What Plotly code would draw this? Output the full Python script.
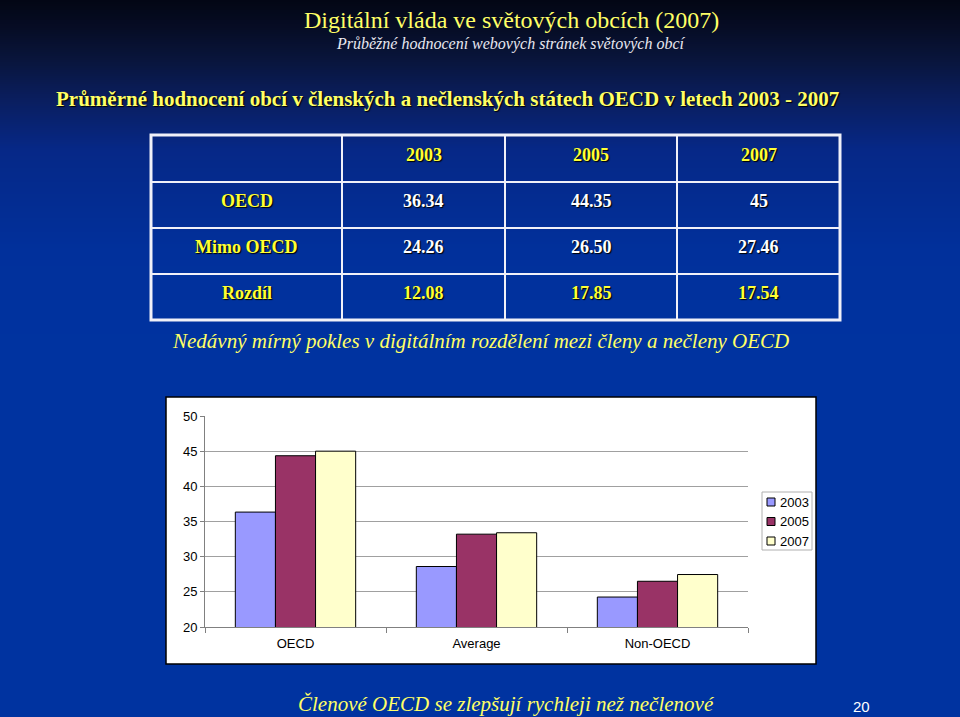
import plotly.graph_objects as go

# ---------------- data ----------------
years = ["2003", "2005", "2007"]
table_row_labels = ["OECD", "Mimo OECD", "Rozdíl"]
table_values = [
    ["36.34", "44.35", "45"],
    ["24.26", "26.50", "27.46"],
    ["12.08", "17.85", "17.54"],
]
chart_categories = ["OECD", "Average", "Non-OECD"]
values_2003 = [36.34, 28.6, 24.26]
values_2005 = [44.35, 33.2, 26.50]
values_2007 = [45.0, 33.4, 27.46]
y_ticks = [20, 25, 30, 35, 40, 45, 50]

title_text = "Digitální vláda ve světových obcích (2007)"
subtitle_text = "Průběžné hodnocení webových stránek světových obcí"
heading_text = "Průměrné hodnocení obcí v členských a nečlenských státech OECD v letech 2003 - 2007"
note_text = "Nedávný mírný pokles v digitálním rozdělení mezi členy a nečleny OECD"
bottom_text = "Členové OECD se zlepšují rychleji než nečlenové"
page_number = "20"

# ---------------- styling helpers ----------------
W, H = 960, 717
bar_colors = ["#9999ff", "#993366", "#ffffcc"]
YELLOW_T = "#ffff66"
YELLOW_TAB = "#ffff33"
SERIF = "Liberation Serif"
SANS = "Liberation Sans"


def px(x):
    return x / W


def py(y):
    return 1 - y / H


fig = go.Figure()
series = [values_2003, values_2005, values_2007]
for name, vals, col in zip(years, series, bar_colors):
    fig.add_bar(
        x=chart_categories,
        y=vals,
        name=name,
        marker=dict(color=col, line=dict(color="black", width=1)),
    )

shapes = []
# background gradient bands
stops = [(0, (3, 6, 20)), (30, (6, 13, 38)), (60, (9, 21, 60)), (100, (10, 30, 95)),
         (150, (6, 40, 135)), (250, (1, 48, 155)), (350, (0, 51, 160))]


def grad(y):
    for (y0, c0), (y1, c1) in zip(stops[:-1], stops[1:]):
        if y0 <= y <= y1:
            t = (y - y0) / (y1 - y0)
            return tuple(int(round(a + (b - a) * t)) for a, b in zip(c0, c1))
    return stops[-1][1]


step = 2
for yb in range(0, 352, step):
    r, g, b = grad(yb + step / 2)
    shapes.append(dict(type="rect", xref="paper", yref="paper", layer="below",
                       x0=0, x1=1, y0=py(yb + step), y1=py(yb),
                       fillcolor=f"rgb({r},{g},{b})", line=dict(width=0)))

# chart white box
shapes.append(dict(type="rect", xref="paper", yref="paper", layer="below",
                   x0=px(166), x1=px(816), y0=py(664), y1=py(397),
                   fillcolor="white", line=dict(color="black", width=1.5)))

# table grid
col_edges = [151, 342, 505, 677, 840]
row_edges = [135, 182, 228, 274, 320]
LINE = "#f0f0f8"
for xe in col_edges[1:-1]:
    shapes.append(dict(type="line", xref="paper", yref="paper",
                       x0=px(xe), x1=px(xe), y0=py(row_edges[-1]), y1=py(row_edges[0]),
                       line=dict(color=LINE, width=2)))
for ye in row_edges[1:-1]:
    shapes.append(dict(type="line", xref="paper", yref="paper",
                       x0=px(col_edges[0]), x1=px(col_edges[-1]), y0=py(ye), y1=py(ye),
                       line=dict(color=LINE, width=2)))
shapes.append(dict(type="rect", xref="paper", yref="paper",
                   x0=px(col_edges[0]), x1=px(col_edges[-1]),
                   y0=py(row_edges[-1]), y1=py(row_edges[0]),
                   line=dict(color=LINE, width=3)))

annotations = []
shadow = "1px 1px 1px #000000"


def cell_center(r, c):
    xc = (col_edges[c] + col_edges[c + 1]) / 2
    yc = (row_edges[r] + row_edges[r + 1]) / 2 - 4
    return px(xc), py(yc)


def add_cell(r, c, text, color):
    x, y = cell_center(r, c)
    annotations.append(dict(x=x, y=y, xref="paper", yref="paper", text=f"<b>{text}</b>",
                            showarrow=False, xanchor="center", yanchor="middle",
                            font=dict(family=SERIF, size=18, color=color, shadow=shadow)))


for j, yr in enumerate(years):
    add_cell(0, j + 1, yr, YELLOW_TAB)
for i, lab in enumerate(table_row_labels):
    add_cell(i + 1, 0, lab, YELLOW_TAB)
    for j, v in enumerate(table_values[i]):
        add_cell(i + 1, j + 1, v, YELLOW_TAB if i == 2 else "white")

# legend (manual, compact like Excel)
leg_x0, leg_y0, leg_x1, leg_y1 = 762, 492, 812, 550
shapes.append(dict(type="rect", xref="paper", yref="paper",
                   x0=px(leg_x0), x1=px(leg_x1), y0=py(leg_y1), y1=py(leg_y0),
                   fillcolor="white", line=dict(color="#b0b0b0", width=1)))
for k, (yr, col) in enumerate(zip(years, bar_colors)):
    yc = 502 + k * 19.5
    shapes.append(dict(type="rect", xref="paper", yref="paper",
                       x0=px(767), x1=px(775), y0=py(yc + 4), y1=py(yc - 4),
                       fillcolor=col, line=dict(color="black", width=1)))
    annotations.append(dict(x=px(778), y=py(yc), xref="paper", yref="paper", text=yr,
                            showarrow=False, xanchor="left", yanchor="middle",
                            font=dict(family=SANS, size=13, color="black")))

# slide texts
annotations += [
    dict(x=px(511), y=py(20), text=title_text,
         font=dict(family=SERIF, size=24, color=YELLOW_T)),
    dict(x=px(511), y=py(44), text=f"<i>{subtitle_text}</i>",
         font=dict(family=SERIF, size=16, color="#e8e8f0")),
    dict(x=px(447), y=py(99), text=f"<b>{heading_text}</b>",
         font=dict(family=SERIF, size=21, color=YELLOW_T, shadow=shadow)),
    dict(x=px(480), y=py(341), text=f"<i>{note_text}</i>",
         font=dict(family=SERIF, size=21, color=YELLOW_T)),
    dict(x=px(507), y=py(704), text=f"<i>{bottom_text}</i>",
         font=dict(family=SERIF, size=21, color=YELLOW_T)),
    dict(x=px(861), y=py(706), text=page_number,
         font=dict(family=SANS, size=15, color="white")),
]
for a in annotations[-6:]:
    a.update(xref="paper", yref="paper", showarrow=False, xanchor="center", yanchor="middle")

fig.update_layout(
    width=W, height=H,
    margin=dict(l=0, r=0, t=0, b=0, pad=0, autoexpand=False),
    paper_bgcolor="#0033a0",
    plot_bgcolor="#c0c0c0",
    showlegend=False,
    barmode="group",
    bargap=0.335,
    bargroupgap=0,
    shapes=shapes,
    annotations=annotations,
    xaxis=dict(domain=[px(205), px(748)], showgrid=False, showline=True, automargin=False,
               linecolor="#808080", linewidth=1, ticks="outside", tickson="boundaries",
               ticklen=5, tickcolor="#808080", ticklabelstandoff=4,
               tickfont=dict(family=SANS, size=13, color="black"), fixedrange=True),
    yaxis=dict(domain=[py(627), py(416)], range=[20, 50], tickvals=y_ticks, automargin=False,
               showgrid=True, gridcolor="#a0a0a0", gridwidth=1, showline=True,
               linecolor="#808080", linewidth=1, ticks="outside", ticklen=4,
               tickcolor="#808080", zeroline=False,
               tickfont=dict(family=SANS, size=13, color="black"), fixedrange=True),
)

fig.write_html(
    "out.html",
    config={"displayModeBar": False},
    post_script="document.body.style.margin='0';document.body.style.overflow='hidden';",
)
